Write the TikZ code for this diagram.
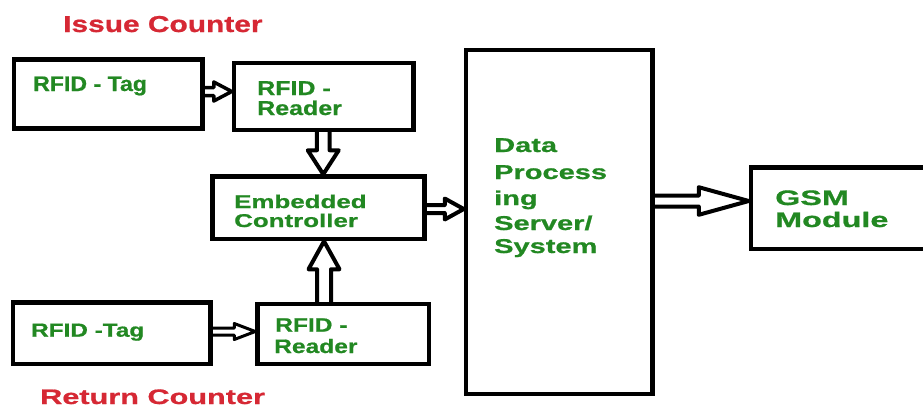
\documentclass[tikz,border=0pt]{standalone}
\usepackage{fontspec}
\setmainfont{Liberation Sans}
\usetikzlibrary{calc}
\definecolor{tgreen}{RGB}{34,136,34}
\definecolor{tred}{RGB}{214,40,52}
\newcommand\tf[2]{\fontsize{#2}{#2}\selectfont\addfontfeature{FakeStretch=#1,FakeBold=0.8}}
\tikzset{
  blk/.style={draw=black, line width=4.5pt, inner sep=0pt},
  lbl/.style={anchor=base west, inner sep=0pt, text=tgreen, font=\bfseries},
  ttl/.style={anchor=base west, inner sep=0pt, text=tred, font=\bfseries},
  hol/.style={draw=black, line join=round, line cap=butt},
}
\begin{document}
\begin{tikzpicture}[x=1pt,y=-1pt]
\useasboundingbox (0,0) rectangle (923,408);
\clip (0,0) rectangle (923,408);
\fill[white] (0,0) rectangle (923,408);

% boxes
\node[blk, minimum width=188.5pt, minimum height=69pt] (tag1) at (108.25,94) {};
\node[blk, minimum width=179.5pt, minimum height=67pt] (rd1) at (323.75,96.5) {};
\node[blk, minimum width=212pt, minimum height=62.5pt] (ctrl) at (318.5,207.75) {};
\node[blk, minimum width=197.5pt, minimum height=61.5pt] (tag2) at (111.75,333.25) {};
\node[blk, minimum width=171.5pt, minimum height=60pt] (rd2) at (343.25,334) {};
\node[blk, minimum width=186.5pt, minimum height=344pt] (dp) at (559.25,222) {};
\node[blk, minimum width=177pt, minimum height=81.5pt] (gsm) at (839.5,208.25) {};

% hollow arrows
\draw[hol, line width=3.5pt] let \p1=($(tag1.east)+(0,-2.5)$), \p2=(rd1.west) in
  (\x1-2pt,\y1+4pt) -- (\x2-18pt,\y1+4pt) -- (\x2-18pt,\y1+9.5pt) -- (\x2,\y1)
  -- (\x2-18pt,\y1-9.5pt) -- (\x2-18pt,\y1-4pt) -- (\x1-2pt,\y1-4pt);
\draw[hol, line width=4pt] let \p1=($(rd1.south)+(-0.5,0)$), \p2=(ctrl.north) in
  (\x1-6.3pt,\y1+2pt) -- (\x1-6.3pt,\y2+24pt) -- (\x1-15.5pt,\y2+24pt) -- (\x1,\y2)
  -- (\x1+15.5pt,\y2+24pt) -- (\x1+6.3pt,\y2+24pt) -- (\x1+6.3pt,\y1+2pt);
\draw[hol, line width=4pt] let \p1=($(ctrl.east)+(0,1.25)$), \p2=(dp.west) in
  (\x1-2pt,\y1+4pt) -- (\x2-19pt,\y1+4pt) -- (\x2-19pt,\y1+10.5pt) -- (\x2,\y1)
  -- (\x2-19pt,\y1-10.5pt) -- (\x2-19pt,\y1-4pt) -- (\x1-2pt,\y1-4pt);
\draw[hol, line width=3pt] let \p1=($(tag2.east)+(0,-1.75)$), \p2=(rd2.west) in
  (\x1-2pt,\y1+3.5pt) -- (\x2-21pt,\y1+3.5pt) -- (\x2-21pt,\y1+8pt) -- (\x2,\y1)
  -- (\x2-21pt,\y1-8pt) -- (\x2-21pt,\y1-3.5pt) -- (\x1-2pt,\y1-3.5pt);
\draw[hol, line width=4pt] let \p1=($(rd2.north)+(-19.25,0)$), \p2=(ctrl.south) in
  (\x1-7pt,\y1-2pt) -- (\x1-7pt,\y2-28pt) -- (\x1-15.5pt,\y2-28pt) -- (\x1,\y2)
  -- (\x1+15.5pt,\y2-28pt) -- (\x1+7pt,\y2-28pt) -- (\x1+7pt,\y1-2pt);
\draw[hol, line width=4pt] let \p1=($(dp.east)+(0,-21)$), \p2=(gsm.west) in
  (\x1-2pt,\y1+5.5pt) -- (\x2-50pt,\y1+5.5pt) -- (\x2-50pt,\y1+13.8pt) -- (\x2,\y1)
  -- (\x2-50pt,\y1-13.8pt) -- (\x2-50pt,\y1-5.5pt) -- (\x1-2pt,\y1-5.5pt);

% texts
\node[ttl] (tissue) at (63,32) {\tf{1.3}{23}Issue Counter};
\node[ttl] (treturn) at (40,404) {\tf{1.46}{21}Return Counter};
\node[lbl] (ttaga) at (33,91) {\tf{1.1}{21}RFID - Tag};
\node[lbl] (trda) at (257,95) {\tf{1.25}{20}RFID -};
\node[lbl] (trdb) at (257,115) {\tf{1.25}{20}Reader};
\node[lbl] (tctla) at (234,208) {\tf{1.4}{18.5}Embedded};
\node[lbl] (tctlb) at (234,227) {\tf{1.4}{18.5}Controller};
\node[lbl] (ttagb) at (31,336.7) {\tf{1.28}{19}RFID -Tag};
\node[lbl] (trdc) at (275,331.7) {\tf{1.26}{19.5}RFID -};
\node[lbl] (trdd) at (274,353) {\tf{1.26}{19.5}Reader};
\node[lbl] (tdpa) at (494,152) {\tf{1.45}{20}Data};
\node[lbl] (tdpb) at (494,179) {\tf{1.45}{20}Process};
\node[lbl] (tdpc) at (494,205) {\tf{1.45}{20}ing};
\node[lbl] (tdpd) at (494,230) {\tf{1.45}{20}Server/};
\node[lbl] (tdpe) at (494,253) {\tf{1.45}{20}System};
\node[lbl] (tgsma) at (775,205) {\tf{1.54}{21}GSM};
\node[lbl] (tgsmb) at (775,227) {\tf{1.54}{21}Module};
\end{tikzpicture}
\end{document}
